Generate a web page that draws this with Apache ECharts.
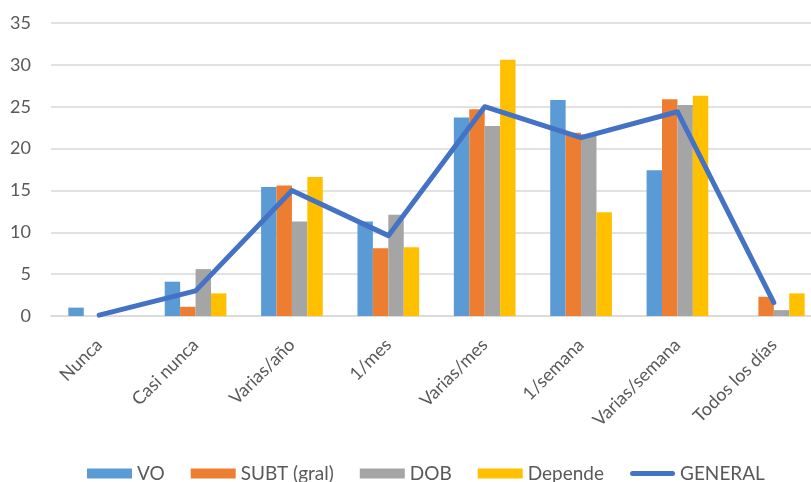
<!DOCTYPE html>
<html>
<head>
<meta charset="utf-8">
<script src="https://cdn.jsdelivr.net/npm/echarts@6/dist/echarts.min.js"></script>
<style>
  html, body { margin: 0; padding: 0; background: #fff; overflow: hidden; }
  #chart { width: 811px; height: 482px; }
</style>
</head>
<body>
<div id="chart"></div>
<script>
// Frequency categories
const categories = ['Nunca', 'Casi nunca', 'Varias/año', '1/mes', 'Varias/mes', '1/semana', 'Varias/semana', 'Todos los días'];

// Percentages per group
const vo      = [1.0, 4.1, 15.4, 11.3, 23.7, 25.8, 17.4, 0];
const subt    = [0, 1.1, 15.6, 8.1, 24.7, 21.9, 25.9, 2.3];
const dob     = [0, 5.6, 11.3, 12.1, 22.7, 21.7, 25.2, 0.7];
const depende = [0, 2.7, 16.6, 8.2, 30.6, 12.4, 26.3, 2.7];
const general = [0.1, 3.0, 15.0, 9.6, 25.0, 21.3, 24.4, 1.6];

const yTicks = { min: 0, max: 35, interval: 5 };

const fontFamily = 'Lato, "Open Sans", sans-serif';
const textColor = '#595959';

const chart = echarts.init(document.getElementById('chart'));

const bar = (name, data, color) => ({
  name, type: 'bar', data,
  barGap: '0%', barCategoryGap: '36%',
  itemStyle: { color },
  silent: true
});

// thick rounded stroke used as the legend marker of the line series
const lineIcon = 'path://M0,0L0,0M2.5,2.5H42.5A2.5,2.5,0,0,1,42.5,7.5H2.5A2.5,2.5,0,0,1,2.5,2.5ZM45,10L45,10';

chart.setOption({
  animation: false,
  textStyle: { fontFamily },
  grid: { left: 51, right: -11, top: 23, bottom: 166, outerBoundsMode: 'none' },
  legend: {
    top: 459,
    left: 82,
    itemWidth: 45,
    itemHeight: 10,
    itemGap: 26,
    textStyle: { color: textColor, fontSize: 19, fontFamily },
    data: [
      { name: 'VO', icon: 'rect' },
      { name: 'SUBT (gral)', icon: 'rect' },
      { name: 'DOB', icon: 'rect' },
      { name: 'Depende', icon: 'rect' },
      { name: 'GENERAL', icon: lineIcon }
    ]
  },
  xAxis: {
    type: 'category',
    data: categories,
    axisTick: { show: false },
    axisLine: { lineStyle: { color: '#d9d9d9', width: 1.5 } },
    axisLabel: { rotate: 45, color: textColor, fontSize: 18, margin: 26, interval: 0 }
  },
  yAxis: {
    type: 'value',
    min: yTicks.min, max: yTicks.max, interval: yTicks.interval,
    axisLine: { show: false },
    axisTick: { show: false },
    axisLabel: { color: textColor, fontSize: 18, margin: 20 },
    splitLine: { lineStyle: { color: '#d9d9d9', width: 1.5 } }
  },
  series: [
    bar('VO', vo, '#5B9BD5'),
    bar('SUBT (gral)', subt, '#ED7D31'),
    bar('DOB', dob, '#A5A5A5'),
    bar('Depende', depende, '#FFC000'),
    {
      name: 'GENERAL', type: 'line', data: general,
      symbol: 'none',
      itemStyle: { color: '#4472C4' },
      lineStyle: { color: '#4472C4', width: 5, cap: 'round', join: 'round' },
      z: 5
    }
  ]
});
</script>
</body>
</html>
